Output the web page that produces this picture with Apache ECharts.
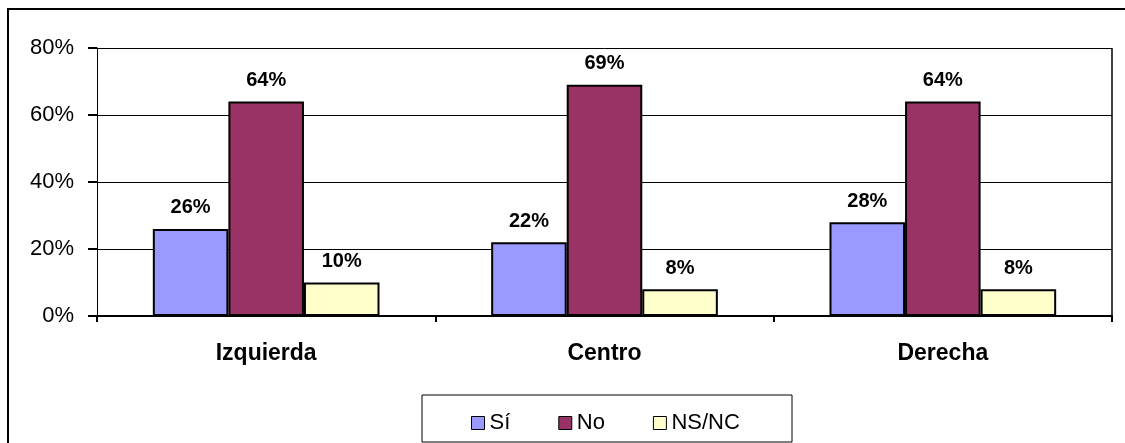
<!DOCTYPE html>
<html><head><meta charset="utf-8">
<script src="https://cdn.jsdelivr.net/npm/echarts@6/dist/echarts.min.js"></script>
<style>html,body{margin:0;padding:0;background:#fff}#c{width:1125px;height:443px}</style>
</head><body><div id="c"></div>
<script>
const categories = ['Izquierda', 'Centro', 'Derecha'];
const si = [26, 22, 28];
const no = [64, 69, 64];
const nsnc = [10, 8, 8];
const seriesNames = ['Sí', 'No', 'NS/NC'];
const colors = ['#9999FF', '#993366', '#FFFFCC'];

const chart = echarts.init(document.getElementById('c'));
const font = 'Arial, "Liberation Sans", sans-serif';
function mk(name, data, color) {
  return {
    name, type: 'bar', data,
    barGap: '0%', barCategoryGap: '33%',
    itemStyle: { color, borderColor: '#000', borderWidth: 2 },
    label: { show: true, position: 'top', distance: 11, formatter: '{c}%', color: '#000', fontWeight: 'bold', fontSize: 20, fontFamily: font },
    emphasis: { disabled: true }
  };
}
chart.setOption({
  animation: false,
  backgroundColor: '#fff',
  grid: { left: 97, right: 13, top: 48, bottom: 127 },
  graphic: [
    { type: 'rect', shape: { x: 8, y: 9, width: 1130, height: 450 }, style: { fill: 'none', stroke: '#000', lineWidth: 2 }, z: 100 },
    { type: 'rect', shape: { x: 422, y: 395, width: 370, height: 47 }, style: { fill: 'none', stroke: '#000', lineWidth: 1 }, z: 100 },
    { type: 'line', shape: { x1: 1112, y1: 48, x2: 1112, y2: 322 }, style: { stroke: '#000', lineWidth: 1.5 }, z: 50 }
  ],
  legend: {
    left: 466, top: 407, itemWidth: 13, itemHeight: 13, itemGap: 48, icon: 'rect',
    itemStyle: { borderWidth: 1, borderColor: '#000' },
    textStyle: { fontSize: 22, fontFamily: font, color: '#000' },
    data: seriesNames
  },
  xAxis: {
    type: 'category', data: categories,
    axisLine: { lineStyle: { color: '#000', width: 2 } },
    axisTick: { show: true, length: 6, lineStyle: { color: '#000', width: 2 } },
    axisLabel: { margin: 26, fontSize: 23, fontWeight: 'bold', color: '#000', fontFamily: font },
    splitLine: { show: false }
  },
  yAxis: {
    type: 'value', min: 0, max: 80, interval: 20,
    axisLine: { show: true, lineStyle: { color: '#000', width: 1 } },
    axisTick: { show: true, length: 9, lineStyle: { color: '#000', width: 2 } },
    axisLabel: { formatter: '{value}%', margin: 23, fontSize: 22, color: '#000', fontFamily: font },
    splitLine: { show: true, lineStyle: { color: '#000', width: 1 } }
  },
  series: [mk(seriesNames[0], si, colors[0]), mk(seriesNames[1], no, colors[1]), mk(seriesNames[2], nsnc, colors[2])]
});
</script></body></html>
